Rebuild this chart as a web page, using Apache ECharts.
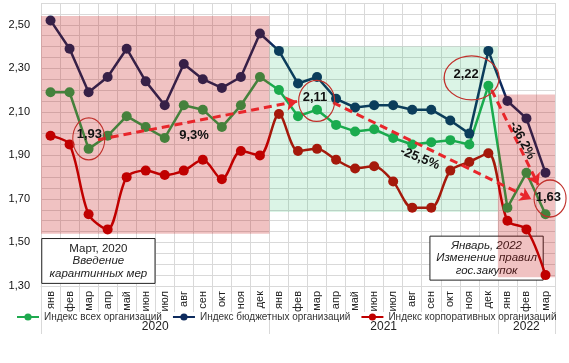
<!DOCTYPE html>
<html><head><meta charset="utf-8">
<script src="https://cdn.jsdelivr.net/npm/echarts@6.0.0/dist/echarts.min.js"></script>
<style>html,body{margin:0;padding:0;background:#fff}#c{width:569px;height:363px}</style>
</head><body><div id="c"></div>
<script>
// ---- data ----
const monthNames = ['янв','фев','мар','апр','май','июн','июл','авг','сен','окт','ноя','дек'];
const months = monthNames.concat(monthNames, ['янв','фев','мар']);
const yearLabels = ['2020','2021','2022'];
const yearMonthCounts = [12, 12, 3];
const yTickLabels = ['1,30','1,50','1,70','1,90','2,10','2,30','2,50'];
const seriesNames = ['Индекс всех организаций','Индекс бюджетных организаций','Индекс корпоративных организаций'];
const allOrg = [2.19,2.19,1.93,1.99,2.08,2.03,1.98,2.13,2.11,2.03,2.13,2.26,
                2.20,2.08,2.11,2.04,2.01,2.02,1.98,1.95,1.96,1.97,1.95,2.22,
                1.66,1.82,1.63];
const budgetOrg = [2.52,2.39,2.19,2.26,2.39,2.24,2.13,2.32,2.25,2.21,2.26,2.46,
                   2.38,2.23,2.26,2.16,2.12,2.13,2.13,2.11,2.11,2.06,2.00,2.38,
                   2.15,2.07,1.82];
const corpOrg = [1.99,1.95,1.63,1.56,1.80,1.83,1.81,1.83,1.88,1.79,1.92,1.90,
                 2.09,1.92,1.93,1.88,1.84,1.85,1.78,1.66,1.66,1.83,1.87,1.91,
                 1.60,1.56,1.35];
// annotation layers (x in month index units, y in index value)
const shadeAreas = [
  {from:[-0.5, 2.54], to:[11.5, 1.54], color:'rgba(192,0,0,0.24)'},
  {from:[11.5, 2.40], to:[23.5, 1.64], color:'rgba(0,176,80,0.14)'},
  {from:[23.5, 2.18], to:[26.5, 1.34], color:'rgba(192,0,0,0.24)'}
];
const noteBoxes = [
  {from:[-0.46, 1.518], to:[5.49, 1.312], lines:[['a','Март, 2020'],['b','Введение'],['b','карантинных мер']]},
  {from:[19.93, 1.529], to:[25.88, 1.327], lines:[['b','Январь, 2022'],['b','Изменение правил'],['b','гос.закупок']]}
];
const arrows = [
  [[2.49, 1.972], [12.95, 2.148]],
  [[14.85, 2.142], [25.25, 1.700]],
  [[23.17, 2.201], [25.62, 1.765]]
];
const ellipses = [
  {at:[2.01, 1.976], size:[32, 42]},
  {at:[13.98, 2.150], size:[36, 41]},
  {at:[22.12, 2.256], size:[55, 44]},
  {at:[26.24, 1.702], size:[32, 37]}
];
const notes = [
  {at:[2.04, 1.995], text:'1,93', rotate:0},
  {at:[7.54, 1.990], text:'9,3%', rotate:0},
  {at:[13.89, 2.167], text:'2,11', rotate:0},
  {at:[19.41, 1.887], text:'-25,5%', rotate:-22},
  {at:[21.83, 2.271], text:'2,22', rotate:0},
  {at:[24.78, 1.969], text:'-36,2%', rotate:-62},
  {at:[26.15, 1.707], text:'1,63', rotate:0}
];

// ---- build ----
const FONT = '"Liberation Sans", Arial, sans-serif';
const totalMonths = months.length;
const halfCats = [];
for (let i = 0; i <= totalMonths * 2; i++) halfCats.push('');
const yearBoundaries = [0];
let start = 0;
yearMonthCounts.forEach((n, k) => {
  halfCats[2 * start + n] = yearLabels[k];
  start += n;
  yearBoundaries.push(2 * start);
});

const chart = echarts.init(document.getElementById('c'), null, {renderer:'canvas'});
function lineSeries(name, data, color, smooth) {
  return {
    name, type:'line', data, xAxisIndex:0, yAxisIndex:0, z:2,
    smooth: smooth, symbol:'circle', symbolSize:10, showSymbol:true,
    lineStyle:{color, width:2.5}, itemStyle:{color},
    emphasis:{disabled:true}, animation:false
  };
}
const option = {
  animation:false,
  textStyle:{fontFamily:FONT},
  grid:{left:41, right:14, top:3, bottom:77, containLabel:false, outerBoundsMode:'none'},
  legend:{
    data:seriesNames, top:312, left:16, width:600, padding:0, itemWidth:22, itemHeight:9, itemGap:10,
    textStyle:{fontSize:10, color:'#333', fontFamily:FONT}, selectedMode:false
  },
  xAxis:[
    {type:'category', data:months, boundaryGap:true, gridIndex:0,
     axisLine:{show:true, lineStyle:{color:'#d9d9d9'}},
     axisTick:{show:true, interval:0, length:26, lineStyle:{color:'#d9d9d9'}},
     splitLine:{show:true, interval:0, lineStyle:{color:'#d9d9d9'}},
     axisLabel:{interval:0, rotate:90, margin:5, fontSize:11, color:'#222', fontFamily:FONT}},
    {type:'value', min:-0.5, max:totalMonths - 0.5, show:false, gridIndex:0},
    {type:'category', data:halfCats, boundaryGap:false, position:'bottom', gridIndex:0,
     axisLine:{show:false},
     axisTick:{show:true, length:48, lineStyle:{color:'#d9d9d9'},
               interval:(i) => yearBoundaries.indexOf(i) >= 0},
     splitLine:{show:false},
     axisLabel:{interval:0, margin:35, fontSize:12, color:'#222', fontFamily:FONT}}
  ],
  yAxis:[{type:'value', min:1.3, max:2.6, interval:0.05,
    axisLine:{show:false}, axisTick:{show:false},
    splitLine:{show:true, lineStyle:{color:'#d9d9d9'}},
    axisLabel:{margin:11, fontSize:11, color:'#111', fontFamily:FONT,
      formatter:(v) => { const s = v.toFixed(2).replace('.', ','); return yTickLabels.indexOf(s) >= 0 ? s : ''; }}
  }],
  series:[
    // note boxes (below lines)
    {type:'scatter', xAxisIndex:1, data:[], silent:true,
     markArea:{z:1, silent:true,
       data: noteBoxes.map(b => [{coord:b.from,
         itemStyle:{color:'#fff', borderColor:'#222', borderWidth:1},
         label:{show:true, position:'inside', color:'#222', fontSize:11.5, lineHeight:12.5, fontFamily:FONT,
           formatter: b.lines.map(l => '{' + l[0] + '|' + l[1] + '}').join('\n'),
           rich:{a:{fontStyle:'normal', fontSize:11.5, lineHeight:12.5, fontFamily:FONT},
                 b:{fontStyle:'italic', fontSize:11.5, lineHeight:12.5, fontFamily:FONT}}}},
         {coord:b.to}])}},
    lineSeries(seriesNames[0], allOrg, '#1faa4f', false),
    lineSeries(seriesNames[1], budgetOrg, '#0d2b5e', false),
    lineSeries(seriesNames[2], corpOrg, '#c00000', 0.3),
    // shaded periods (over lines, translucent)
    {type:'scatter', xAxisIndex:1, data:[], silent:true,
     markArea:{z:3, silent:true,
       data: shadeAreas.map(a => [{coord:a.from, itemStyle:{color:a.color}}, {coord:a.to}])}},
    // arrows, ellipses, notes
    {type:'scatter', xAxisIndex:1, data:[], silent:true,
     markLine:{z:4, silent:true, symbol:['none','arrow'], symbolSize:11, animation:false,
       lineStyle:{type:[8,5], width:3, color:'#e8262b'}, label:{show:false},
       data: arrows.map(a => [{coord:a[0]}, {coord:a[1]}])},
     markPoint:{z:5, silent:true, animation:false,
       data: ellipses.map(e => ({coord:e.at, symbol:'path://M0,50A50,50 0 1 1 100,50A50,50 0 1 1 0,50Z',
           symbolSize:e.size, itemStyle:{color:'rgba(0,0,0,0)', borderColor:'#c0302b', borderWidth:1.2},
           label:{show:false}}))
         .concat(notes.map(n => ({coord:n.at, symbol:'circle', symbolSize:1,
           itemStyle:{color:'rgba(0,0,0,0)'},
           label:{show:true, position:'inside', formatter:n.text, rotate:n.rotate,
             fontSize:13, fontWeight:'bold', color:'#111', fontFamily:FONT}})))}}
  ]
};
chart.setOption(option);
</script>
</body></html>
